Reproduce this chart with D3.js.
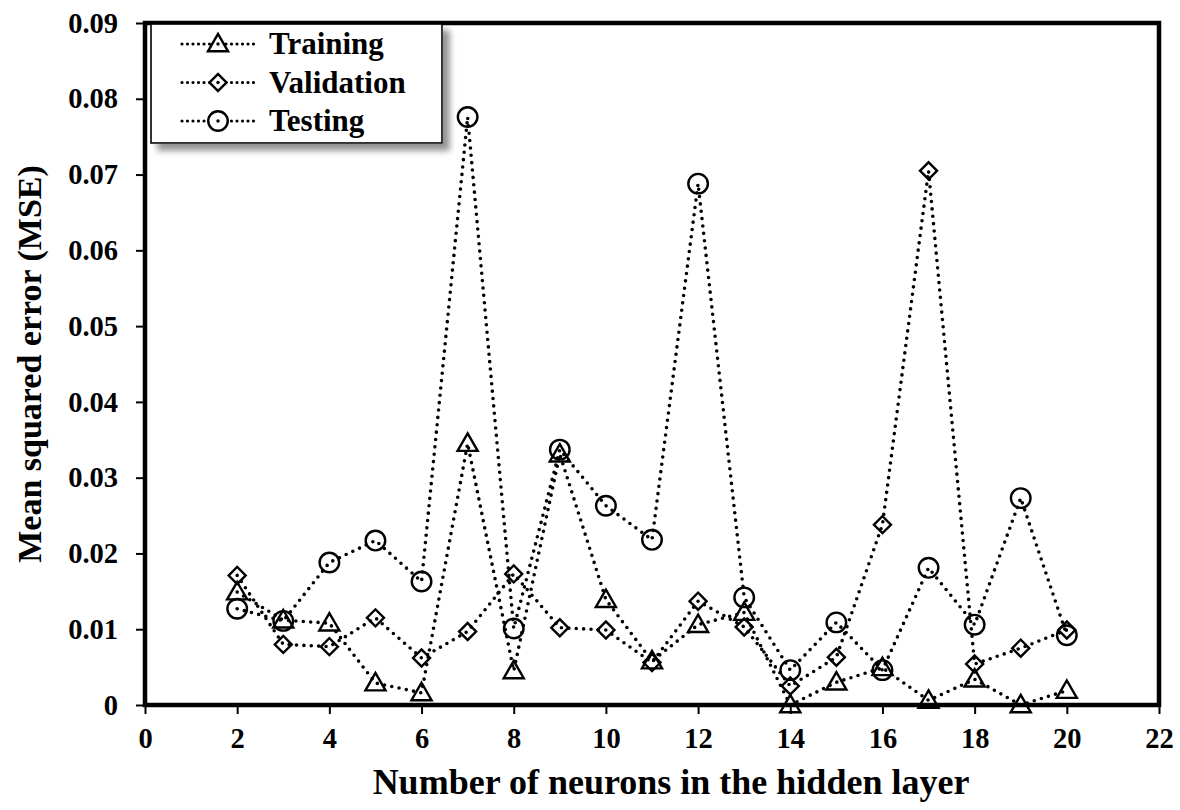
<!DOCTYPE html>
<html>
<head>
<meta charset="utf-8">
<script src="https://cdn.jsdelivr.net/npm/d3@7/dist/d3.min.js"></script>
<style>
  body { margin: 0; background: #fff; }
  svg { display: block; font-family: 'Liberation Serif', 'Times New Roman', serif; font-weight: bold; }
</style>
</head>
<body>
<div id="chart"></div>
<script>
// neurons in the hidden layer
const neurons = [2, 3, 4, 5, 6, 7, 8, 9, 10, 11, 12, 13, 14, 15, 16, 17, 18, 19, 20];
const training = [0.0149, 0.0112, 0.0108, 0.0029, 0.0016, 0.0345, 0.0045, 0.0331, 0.0139, 0.0058,
  0.0106, 0.0122, 0.0000, 0.0030, 0.0049, 0.0006, 0.0034, 0.0000, 0.0019];
const validation = [0.0171, 0.0080, 0.0077, 0.0115, 0.0062, 0.0097, 0.0173, 0.0102, 0.0099, 0.0056,
  0.0137, 0.0103, 0.0025, 0.0063, 0.0238, 0.0705, 0.0054, 0.0075, 0.0099];
const testing = [0.0127, 0.0111, 0.0188, 0.0217, 0.0163, 0.0776, 0.0101, 0.0337, 0.0263, 0.0218,
  0.0688, 0.0142, 0.0046, 0.0109, 0.0046, 0.0181, 0.0106, 0.0273, 0.0092];
const seriesNames = ['Training', 'Validation', 'Testing'];
const xTicks = d3.range(0, 23, 2);
const yTicks = d3.range(0, 0.091, 0.01);

const cfg = {
  width: 1180,
  height: 810,
  left: 145,
  right: 1159,
  top: 23,
  bottom: 705,
};

const svg = d3.select('#chart').append('svg')
  .attr('width', cfg.width)
  .attr('height', cfg.height);

const defs = svg.append('defs');
defs.append('filter').attr('id', 'shadow')
  .attr('x', '-10%').attr('y', '-10%').attr('width', '130%').attr('height', '140%')
  .append('feDropShadow')
  .attr('dx', 7).attr('dy', 7).attr('stdDeviation', 3)
  .attr('flood-color', '#777').attr('flood-opacity', 0.8);

const x = d3.scaleLinear().domain([0, 22]).range([cfg.left, cfg.right]);
const y = d3.scaleLinear().domain([0, 0.09]).range([cfg.bottom, cfg.top]);

// axes
const xAxis = svg.append('g')
  .attr('transform', `translate(0,${cfg.bottom})`)
  .call(d3.axisBottom(x).tickValues(xTicks).tickSize(9).tickPadding(14).tickFormat(d3.format('d')));
const yAxis = svg.append('g')
  .attr('transform', `translate(${cfg.left},0)`)
  .call(d3.axisLeft(y).tickValues(yTicks).tickSize(9).tickPadding(18)
    .tickFormat(d => (d === 0 ? '0' : d3.format('.2f')(d))));

[xAxis, yAxis].forEach((g) => {
  g.select('.domain').remove();
  g.selectAll('.tick line').attr('stroke', '#000').attr('stroke-width', 2);
  g.selectAll('.tick text')
    .attr('fill', '#000')
    .style('font-size', '28.5px')
    .style('font-weight', 'bold')
    .style('font-family', "'Liberation Serif', serif");
});

// plot frame
svg.append('rect')
  .attr('x', cfg.left)
  .attr('y', cfg.top)
  .attr('width', cfg.right - cfg.left)
  .attr('height', cfg.bottom - cfg.top)
  .attr('fill', 'none')
  .attr('stroke', '#000')
  .attr('stroke-width', 4.5);

// markers
const symbols = [
  d3.symbol().type(d3.symbolTriangle).size(175),
  d3.symbol().type(d3.symbolSquare).size(145),
  d3.symbol().type(d3.symbolCircle).size(300),
];
const rotations = [0, 45, 0];

const allSeries = [training, validation, testing];

const line = d3.line()
  .x((d, i) => x(neurons[i]))
  .y(d => y(d));

allSeries.forEach((values, s) => {
  svg.append('path')
    .datum(values)
    .attr('d', line)
    .attr('fill', 'none')
    .attr('stroke', '#000')
    .attr('stroke-width', 3.6)
    .attr('stroke-linecap', 'round')
    .attr('stroke-dasharray', '0 7.4');

  svg.append('g').selectAll('path')
    .data(values).enter()
    .append('path')
    .attr('d', symbols[s])
    .attr('transform', (d, i) => `translate(${x(neurons[i])},${y(d) + (s === 0 ? 1.5 : 0)}) rotate(${rotations[s]})`)
    .attr('fill', 'none')
    .attr('stroke', '#000')
    .attr('stroke-width', 2.4);
});

// legend
const legend = svg.append('g');
legend.append('rect')
  .attr('x', 151)
  .attr('y', 24)
  .attr('width', 291)
  .attr('height', 119)
  .attr('fill', '#fff')
  .attr('stroke', '#000')
  .attr('stroke-width', 1.6)
  .attr('filter', 'url(#shadow)');

seriesNames.forEach((name, s) => {
  const cy = 44 + s * 38.5;
  legend.append('line')
    .attr('x1', 182).attr('x2', 254)
    .attr('y1', cy).attr('y2', cy)
    .attr('stroke', '#000')
    .attr('stroke-width', 3.2)
    .attr('stroke-linecap', 'round')
    .attr('stroke-dasharray', '0 5.5');
  legend.append('path')
    .attr('d', symbols[s])
    .attr('transform', `translate(218,${cy + (s === 0 ? 1.5 : 0)}) rotate(${rotations[s]})`)
    .attr('fill', '#fff')
    .attr('stroke', '#000')
    .attr('stroke-width', 2.4);
  legend.append('circle').attr('cx', 218).attr('cy', cy).attr('r', 1.7).attr('fill', '#000');
  legend.append('text')
    .attr('x', 269)
    .attr('y', cy + 10)
    .style('font-size', '31px')
    .text(name);
});

// axis titles
svg.append('text')
  .attr('x', (cfg.left + cfg.right) / 2 + 19)
  .attr('y', 794)
  .attr('text-anchor', 'middle')
  .style('font-size', '36px')
  .text('Number of neurons in the hidden layer');

svg.append('text')
  .attr('transform', `translate(41,${(cfg.top + cfg.bottom) / 2}) rotate(-90)`)
  .attr('text-anchor', 'middle')
  .style('font-size', '34px')
  .text('Mean squared error (MSE)');
</script>
</body>
</html>
